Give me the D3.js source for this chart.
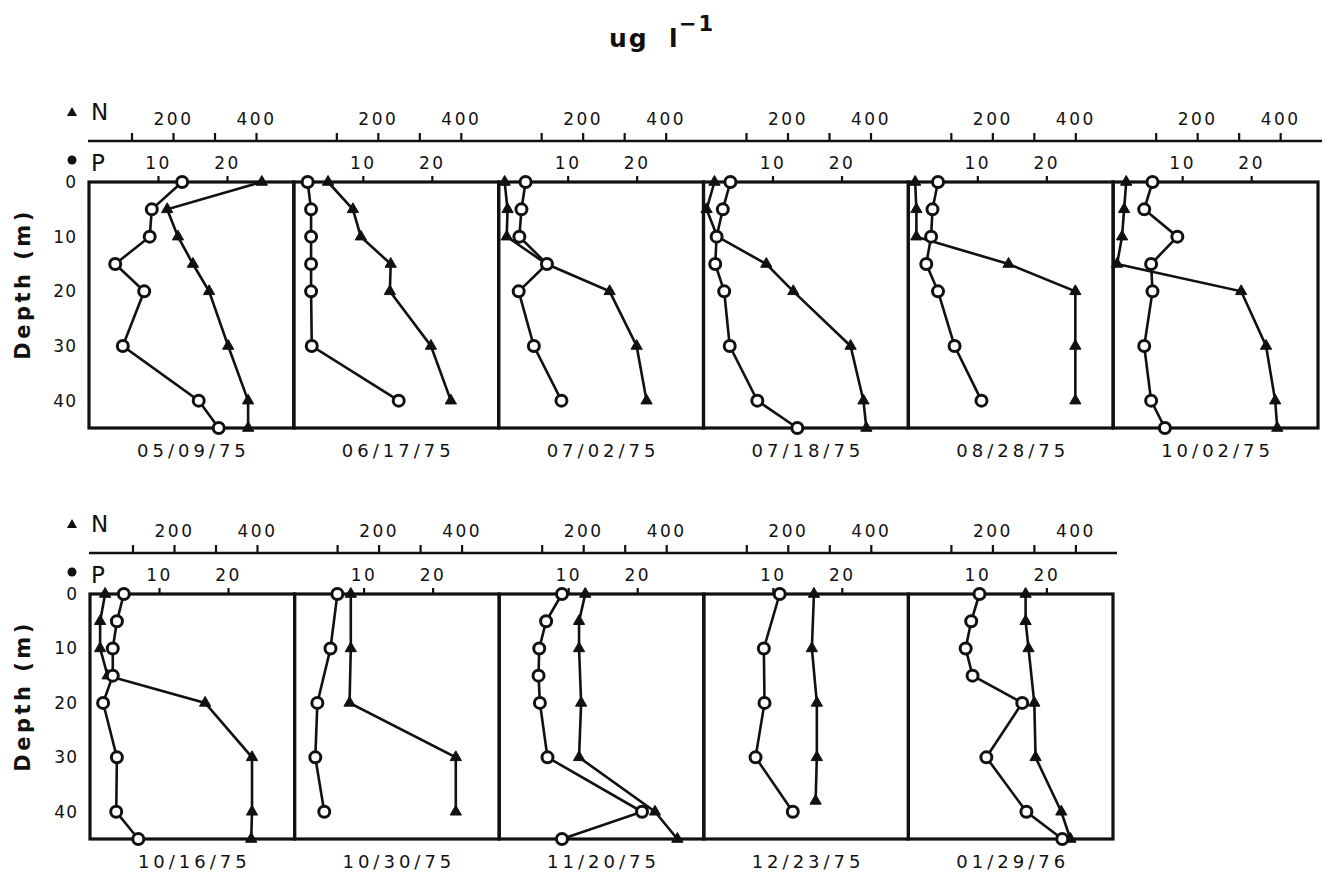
<!DOCTYPE html>
<html>
<head>
<meta charset="utf-8">
<script src="https://cdn.jsdelivr.net/npm/d3@7/dist/d3.min.js"></script>
<style>
  body { margin: 0; background: #fff; }
  text { font-family: "DejaVu Sans", sans-serif; fill: #111; }
</style>
</head>
<body>
<div id="chart"></div>
<script>
// sampling dates, one panel each
var dates = ["05/09/75", "06/17/75", "07/02/75", "07/18/75", "08/28/75", "10/02/75",
             "10/16/75", "10/30/75", "11/20/75", "12/23/75", "01/29/76"];

// phosphorus (circles), ug/l
var pDepths = [
  [0, 5, 10, 15, 20, 30, 40, 45],
  [0, 5, 10, 15, 20, 30, 40],
  [0, 5, 10, 15, 20, 30, 40],
  [0, 5, 10, 15, 20, 30, 40, 45],
  [0, 5, 10, 15, 20, 30, 40],
  [0, 5, 10, 15, 20, 30, 40, 45],
  [0, 5, 10, 15, 20, 30, 40, 45],
  [0, 10, 20, 30, 40],
  [0, 5, 10, 15, 20, 30, 40, 45],
  [0, 10, 20, 30, 40],
  [0, 5, 10, 15, 20, 30, 40, 45]
];
var pValues = [
  [13.5, 9.1, 8.8, 3.8, 8.0, 4.9, 15.9, 18.8],
  [2.0, 2.5, 2.5, 2.5, 2.5, 2.6, 15.2],
  [3.9, 3.3, 3.0, 7.0, 2.9, 5.1, 9.1],
  [3.9, 2.8, 1.9, 1.7, 3.0, 3.8, 7.8, 13.6],
  [4.3, 3.5, 3.3, 2.6, 4.3, 6.7, 10.6],
  [5.7, 4.5, 9.3, 5.5, 5.7, 4.5, 5.5, 7.5],
  [4.9, 3.9, 3.3, 3.3, 1.9, 3.9, 3.8, 7.0],
  [6.2, 5.2, 3.3, 3.0, 4.3],
  [9.1, 6.8, 5.8, 5.7, 5.9, 7.0, 20.7, 9.1],
  [11.0, 8.7, 8.8, 7.5, 12.9],
  [10.3, 9.1, 8.3, 9.3, 16.5, 11.3, 17.1, 22.3]
];

// nitrogen (triangles), ug/l
var nDepths = [
  [0, 5, 10, 15, 20, 30, 40, 45],
  [0, 5, 10, 15, 20, 30, 40],
  [0, 5, 10, 15, 20, 30, 40],
  [0, 5, 10, 15, 20, 30, 40, 45],
  [0, 5, 10, 15, 20, 30, 40],
  [0, 5, 10, 15, 20, 30, 40, 45],
  [0, 5, 10, 15, 20, 30, 40, 45],
  [0, 10, 20, 30, 40],
  [0, 5, 10, 20, 30, 40, 45],
  [0, 10, 20, 30, 38],
  [0, 5, 10, 20, 30, 40, 45]
];
var nValues = [
  [414, 186, 212, 248, 287, 333, 381, 381],
  [80, 140, 159, 231, 229, 328, 376],
  [12, 19, 17, 113, 265, 330, 354],
  [24, 5, 31, 149, 214, 352, 383, 390],
  [14, 17, 17, 239, 400, 400, 400],
  [29, 24, 19, 7, 306, 366, 388, 393],
  [34, 22, 22, 40, 275, 388, 388, 386],
  [133, 133, 130, 386, 386],
  [205, 190, 190, 195, 190, 373, 427],
  [263, 258, 270, 270, 267],
  [280, 280, 287, 301, 304, 366, 388]
];

// ticks
var nTicks = [100, 200, 300, 400];
var nLabelled = [200, 400];
var pTicks = [10, 20];
var depthTicks = [0, 10, 20, 30, 40];

var svgWidth = 1325;
var svgHeight = 874;

var svg = d3.select("#chart")
  .append("svg")
  .attr("width", svgWidth)
  .attr("height", svgHeight);

// title: ug l^-1
svg.append("text")
  .attr("x", 609).attr("y", 47)
  .attr("font-family", "Liberation Sans, sans-serif")
  .attr("font-weight", "bold")
  .attr("font-size", 25)
  .attr("letter-spacing", 2)
  .text("ug");
svg.append("text")
  .attr("x", 669).attr("y", 47)
  .attr("font-family", "Liberation Sans, sans-serif")
  .attr("font-weight", "bold")
  .attr("font-size", 25)
  .text("l");
svg.append("text")
  .attr("x", 679).attr("y", 31)
  .attr("font-family", "Liberation Sans, sans-serif")
  .attr("font-weight", "bold")
  .attr("font-size", 21)
  .attr("letter-spacing", 2)
  .text("\u22121");

// two rows of panels
var rows = [
  { top: 182, bottom: 428, first: 0, count: 6, left: 89, right: 1318, lineEnd: 1322 },
  { top: 594, bottom: 839, first: 6, count: 5, left: 90, right: 1113, lineEnd: 1117 }
];

function styleTickText(sel) {
  sel.attr("font-size", 17)
    .attr("letter-spacing", 2.5)
    .attr("font-family", "DejaVu Sans, sans-serif")
    .attr("fill", "#111");
}

rows.forEach(function(row) {
  var panelX = d3.scaleLinear().domain([0, row.count]).range([row.left, row.right]);
  var yScale = d3.scaleLinear().domain([0, 45]).range([row.top, row.bottom]);
  var axisY = row.top - 41;

  // long N axis line across the row
  svg.append("line")
    .attr("x1", row.left - 1).attr("x2", row.lineEnd)
    .attr("y1", axisY).attr("y2", axisY)
    .attr("stroke", "#111").attr("stroke-width", 2.4);

  // N and P keys
  svg.append("path")
    .attr("d", d3.symbol().type(d3.symbolTriangle).size(45)())
    .attr("transform", `translate(72, ${row.top - 69})`)
    .attr("fill", "#111");
  svg.append("text")
    .attr("x", 91).attr("y", row.top - 62)
    .attr("font-size", 23)
    .text("N");
  svg.append("circle")
    .attr("cx", 72).attr("cy", row.top - 22).attr("r", 4.5)
    .attr("fill", "#111");
  svg.append("text")
    .attr("x", 91).attr("y", row.top - 11)
    .attr("font-size", 23)
    .text("P");

  // depth axis
  var leftAxis = d3.axisLeft(yScale)
    .tickValues(depthTicks)
    .tickSize(0)
    .tickPadding(12);
  var yAxis = svg.append("g")
    .attr("transform", `translate(${row.left}, 0)`)
    .call(leftAxis);
  yAxis.select(".domain").remove();
  yAxis.selectAll("text").call(styleTickText).attr("letter-spacing", 1);

  svg.append("text")
    .attr("transform", `translate(30, ${row.top + 102}) rotate(-90)`)
    .attr("text-anchor", "middle")
    .attr("font-family", "DejaVu Sans, sans-serif")
    .attr("font-weight", "bold")
    .attr("font-size", 21)
    .attr("letter-spacing", 3.5)
    .text("Depth (m)");

  for (var k = 0; k < row.count; k++) {
    var i = row.first + k;
    var left = panelX(k);
    var right = panelX(k + 1);

    var pScale = d3.scaleLinear().domain([0, 30]).range([left, left + 207]);
    var nScale = d3.scaleLinear().domain([0, 500]).range([left + 1, left + 208.5]);

    // N ticks on the long line
    var topAxis = d3.axisTop(nScale)
      .tickValues(nTicks)
      .tickSize(8)
      .tickPadding(8)
      .tickFormat(d => nLabelled.indexOf(d) >= 0 ? d : "");
    var nAxis = svg.append("g")
      .attr("transform", `translate(0, ${axisY})`)
      .call(topAxis);
    nAxis.select(".domain").remove();
    nAxis.selectAll("line").attr("stroke", "#111").attr("stroke-width", 2.2);
    nAxis.selectAll("text").call(styleTickText);

    // P ticks on top of the box
    var pAxisFn = d3.axisTop(pScale)
      .tickValues(pTicks)
      .tickSize(6)
      .tickPadding(7);
    var pAxis = svg.append("g")
      .attr("transform", `translate(0, ${row.top})`)
      .call(pAxisFn);
    pAxis.select(".domain").remove();
    pAxis.selectAll("line").attr("stroke", "#111").attr("stroke-width", 2.2);
    pAxis.selectAll("text").call(styleTickText);

    // panel box
    svg.append("rect")
      .attr("x", left).attr("y", row.top)
      .attr("width", right - left).attr("height", row.bottom - row.top)
      .attr("fill", "none")
      .attr("stroke", "#111")
      .attr("stroke-width", 3.2);

    // date label
    svg.append("text")
      .attr("x", (left + right) / 2 + 2)
      .attr("y", row.bottom + 29)
      .attr("text-anchor", "middle")
      .attr("font-size", 18)
      .attr("letter-spacing", 4)
      .text(dates[i]);

    var pData = pDepths[i].map((d, j) => ({ depth: d, value: pValues[i][j] }));
    var nData = nDepths[i].map((d, j) => ({ depth: d, value: nValues[i][j] }));

    var pLine = d3.line().x(d => pScale(d.value)).y(d => yScale(d.depth));
    var nLine = d3.line().x(d => nScale(d.value)).y(d => yScale(d.depth));

    svg.append("path")
      .datum(nData)
      .attr("d", nLine)
      .attr("fill", "none")
      .attr("stroke", "#111")
      .attr("stroke-width", 2.6);

    svg.append("path")
      .datum(pData)
      .attr("d", pLine)
      .attr("fill", "none")
      .attr("stroke", "#111")
      .attr("stroke-width", 2.6);

    svg.selectAll(null)
      .data(nData)
      .enter()
      .append("path")
      .attr("d", d3.symbol().type(d3.symbolTriangle).size(55))
      .attr("transform", d => `translate(${nScale(d.value)}, ${yScale(d.depth)})`)
      .attr("fill", "#111")
      .attr("stroke", "#111")
      .attr("stroke-width", 1);

    svg.selectAll(null)
      .data(pData)
      .enter()
      .append("circle")
      .attr("cx", d => pScale(d.value))
      .attr("cy", d => yScale(d.depth))
      .attr("r", 5.5)
      .attr("fill", "#fff")
      .attr("stroke", "#111")
      .attr("stroke-width", 3);
  }
});
</script>
</body>
</html>
